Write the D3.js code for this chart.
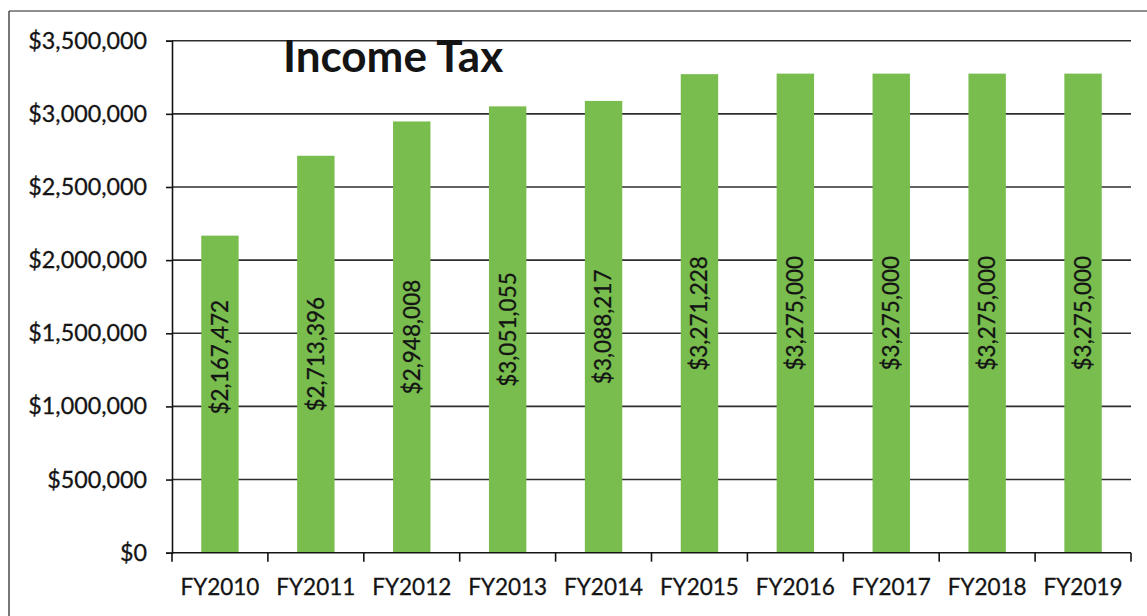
<!DOCTYPE html>
<html>
<head>
<meta charset="utf-8">
<script src="https://cdn.jsdelivr.net/npm/d3@7"></script>
<style>
  html, body { margin: 0; padding: 0; background: #ffffff; }
  svg { display: block; }
</style>
</head>
<body>
<svg id="chart" width="1147" height="616"></svg>
<script>
// Income tax revenue by fiscal year
const years = ["FY2010", "FY2011", "FY2012", "FY2013", "FY2014", "FY2015", "FY2016", "FY2017", "FY2018", "FY2019"];
const incomeTax = [2167472, 2713396, 2948008, 3051055, 3088217, 3271228, 3275000, 3275000, 3275000, 3275000];
const yTicks = [0, 500000, 1000000, 1500000, 2000000, 2500000, 3000000, 3500000];
const titleText = "Income Tax";

const svg = d3.select("#chart");
const font = "Lato, 'Open Sans', sans-serif";
const ink = "#141414";
const barColor = "#78bd4e";

const plot = { left: 172, right: 1131, top: 40.7, bottom: 552.7 };

const y = d3.scaleLinear().domain([0, 3500000]).range([plot.bottom, plot.top]);
const x = d3.scaleBand().domain(years).range([plot.left, plot.right])
  .paddingInner(0.61).paddingOuter(0.305);
const xCat = d3.scaleBand().domain(years).range([plot.left, plot.right]).padding(0);

const money = d3.format("$,.0f");

// outer frame
svg.append("line").attr("x1", 9).attr("x2", 1147).attr("y1", 11).attr("y2", 11)
  .attr("stroke", "#6a6a6a").attr("stroke-width", 1.5);
svg.append("line").attr("x1", 9).attr("x2", 9).attr("y1", 11).attr("y2", 616)
  .attr("stroke", "#4a4a4a").attr("stroke-width", 1.5);

// horizontal gridlines
svg.append("g").selectAll("line").data(yTicks.filter(d => d > 0)).join("line")
  .attr("x1", plot.left).attr("x2", plot.right)
  .attr("y1", d => y(d)).attr("y2", d => y(d))
  .attr("stroke", "#2e2e2e").attr("stroke-width", 1.6);

// bars
svg.append("g").selectAll("rect").data(years).join("rect")
  .attr("x", d => x(d))
  .attr("width", x.bandwidth())
  .attr("y", (d, i) => y(incomeTax[i]))
  .attr("height", (d, i) => y(0) - y(incomeTax[i]))
  .attr("fill", barColor);

// y axis
const yAxis = svg.append("g").attr("transform", `translate(${plot.left},0)`)
  .call(d3.axisLeft(y).tickValues(yTicks).tickFormat(money).tickSize(6).tickPadding(19));
yAxis.select(".domain").attr("stroke", ink).attr("stroke-width", 1.6);
yAxis.selectAll(".tick line").attr("stroke", ink).attr("stroke-width", 1.6);
yAxis.selectAll(".tick text").attr("font-family", font).attr("font-size", 23.3)
  .attr("fill", ink).attr("stroke", ink).attr("stroke-width", 0.3);

// x axis: baseline, boundary ticks, centred labels
const xAxis = svg.append("g");
xAxis.append("line").attr("x1", plot.left).attr("x2", plot.right)
  .attr("y1", y(0)).attr("y2", y(0)).attr("stroke", ink).attr("stroke-width", 1.6);
const bounds = years.map(d => xCat(d)).concat([xCat(years[years.length - 1]) + xCat.bandwidth()]);
xAxis.selectAll("line.tk").data(bounds).join("line").attr("class", "tk")
  .attr("x1", d => d).attr("x2", d => d)
  .attr("y1", y(0)).attr("y2", y(0) + 9)
  .attr("stroke", ink).attr("stroke-width", 1.6);
xAxis.selectAll("text").data(years).join("text")
  .attr("x", d => xCat(d) + xCat.bandwidth() / 2)
  .attr("y", y(0) + 42)
  .attr("text-anchor", "middle")
  .attr("font-family", font).attr("font-size", 22.5)
  .attr("fill", ink).attr("stroke", ink).attr("stroke-width", 0.3)
  .text(d => d);

// value labels, rotated inside each bar
const labelNudge = { FY2010: -37 };
svg.append("g").selectAll("text").data(years).join("text")
  .attr("transform", (d, i) => {
    const cx = x(d) + x.bandwidth() / 2;
    const cy = (y(incomeTax[i]) + y(0)) / 2 + (labelNudge[d] || 0);
    return `translate(${cx},${cy}) rotate(-90)`;
  })
  .attr("text-anchor", "middle")
  .attr("dy", "0.35em")
  .attr("font-family", font).attr("font-size", 22.5)
  .attr("fill", ink).attr("stroke", ink).attr("stroke-width", 0.3)
  .text((d, i) => money(incomeTax[i]));

// title
svg.append("text")
  .attr("x", 283).attr("y", 72)
  .attr("font-family", font).attr("font-weight", 700).attr("font-size", 44)
  .attr("fill", ink)
  .text(titleText);
</script>
</body>
</html>
